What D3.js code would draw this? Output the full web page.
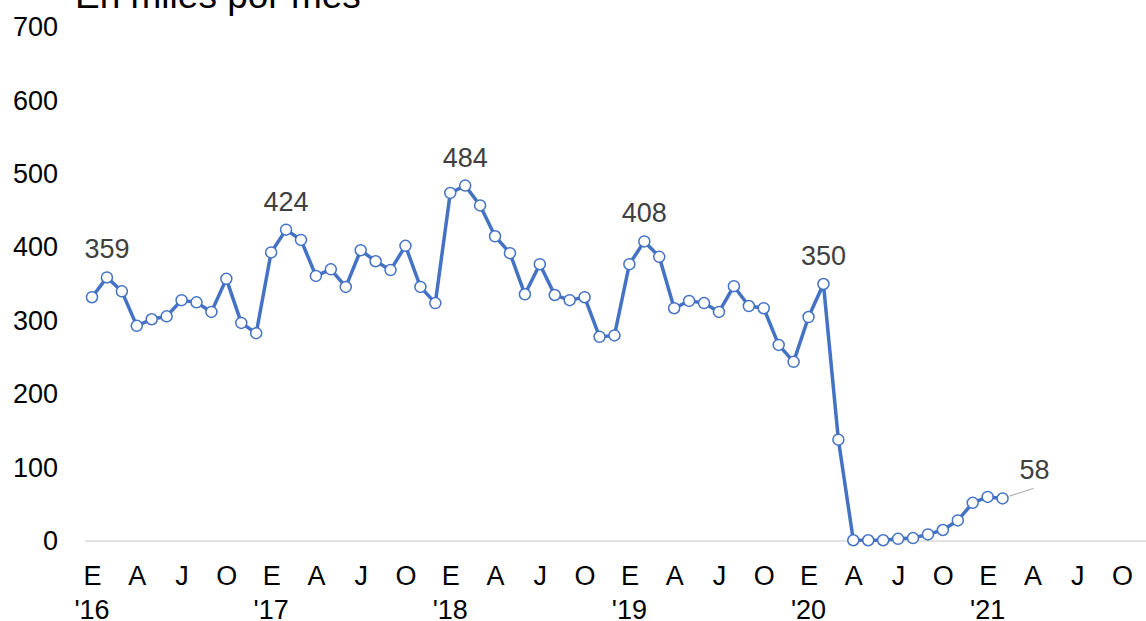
<!DOCTYPE html>
<html>
<head>
<meta charset="utf-8">
<script src="https://cdn.jsdelivr.net/npm/d3@7"></script>
<style>
  body { margin: 0; background: #fff; }
  text { font-family: "Liberation Sans", Arial, sans-serif; }
</style>
</head>
<body>
<div id="chart"></div>
<script>
const width = 1146
const height = 621

// valores mensuales desde enero 2016 (miles)
const values = [
  332, 359, 340, 293, 302, 306, 328, 325, 312, 357, 297, 283,
  393, 424, 410, 361, 370, 346, 396, 381, 369, 402, 346, 324,
  474, 484, 457, 415, 392, 336, 377, 335, 328, 332, 278, 280,
  377, 408, 387, 317, 327, 324, 312, 347, 320, 317, 267, 244,
  305, 350, 138, 1, 1, 1, 3, 4, 9, 15, 28, 52,
  60, 58
]
const monthLabels = ["E", "A", "J", "O"]
const yearLabels = ["'16", "'17", "'18", "'19", "'20", "'21"]
const yTicks = [0, 100, 200, 300, 400, 500, 600, 700]
const labeledIdx = [1, 13, 25, 37, 49]
const lastIdx = values.length - 1

const svg = d3.select("div#chart")
    .append("svg")
    .attr("width", width)
    .attr("height", height)

// escalas: un mes por unidad en x
const x = d3.scaleLinear().domain([0, 69]).range([92, 1122])
const y = d3.scaleLinear().domain([0, 700]).range([541, 27])

// titulo (cortado arriba como en el original)
svg.append("text")
    .attr("x", 75)
    .attr("y", 8)
    .attr("font-size", 37)
    .attr("fill", "#000")
    .text("En miles por mes")

// linea del cero
svg.append("line")
    .attr("x1", 85).attr("x2", width)
    .attr("y1", y(0)).attr("y2", y(0))
    .attr("stroke", "#d9d9d9")
    .attr("stroke-width", 1.3)

// eje y (solo etiquetas)
const yAxis = d3.axisLeft(y).tickValues(yTicks).tickSize(0).tickPadding(0)
const yAxisGroup = svg.append("g").attr("transform", "translate(58,0)").call(yAxis)
yAxisGroup.select(".domain").remove()
yAxisGroup.selectAll("text")
    .attr("font-size", 27)
    .attr("fill", "#000")
    .attr("font-family", "Liberation Sans, Arial, sans-serif")

// eje x: trimestres
const quarterTicks = d3.range(0, 70, 3)
const xAxis = d3.axisBottom(x)
    .tickValues(quarterTicks)
    .tickSize(0)
    .tickPadding(0)
    .tickFormat(i => monthLabels[(i % 12) / 3])
const xAxisGroup = svg.append("g").attr("transform", "translate(0,566)").call(xAxis)
xAxisGroup.select(".domain").remove()
xAxisGroup.selectAll("text")
    .attr("font-size", 27)
    .attr("fill", "#000")
    .attr("font-family", "Liberation Sans, Arial, sans-serif")

// años
svg.append("g").selectAll("text").data(yearLabels)
    .join("text")
    .attr("x", (d, i) => x(i * 12))
    .attr("y", 619)
    .attr("text-anchor", "middle")
    .attr("font-size", 27)
    .attr("fill", "#000")
    .text(d => d)

// serie
const line = d3.line()
    .x((d, i) => x(i))
    .y(d => y(d))

svg.append("path")
    .datum(values)
    .attr("fill", "none")
    .attr("stroke", "#4472c4")
    .attr("stroke-width", 3.5)
    .attr("stroke-linejoin", "round")
    .attr("d", line)

svg.append("g").selectAll("circle").data(values)
    .join("circle")
    .attr("cx", (d, i) => x(i))
    .attr("cy", d => y(d))
    .attr("r", 5.5)
    .attr("fill", "#fff")
    .attr("stroke", "#4472c4")
    .attr("stroke-width", 1.5)

// etiquetas de datos
svg.append("g").selectAll("text").data(labeledIdx)
    .join("text")
    .attr("x", i => x(i))
    .attr("y", i => y(values[i]) - 19)
    .attr("text-anchor", "middle")
    .attr("font-size", 27)
    .attr("fill", "#404040")
    .text(i => values[i])

// ultimo valor con linea guia
svg.append("line")
    .attr("x1", x(lastIdx) + 6).attr("y1", y(values[lastIdx]) - 2)
    .attr("x2", x(lastIdx) + 31).attr("y2", y(values[lastIdx]) - 10)
    .attr("stroke", "#a6a6a6")
    .attr("stroke-width", 1)

svg.append("text")
    .attr("x", x(lastIdx) + 32)
    .attr("y", y(values[lastIdx]) - 19)
    .attr("text-anchor", "middle")
    .attr("font-size", 27)
    .attr("fill", "#404040")
    .text(values[lastIdx])
</script>
</body>
</html>
